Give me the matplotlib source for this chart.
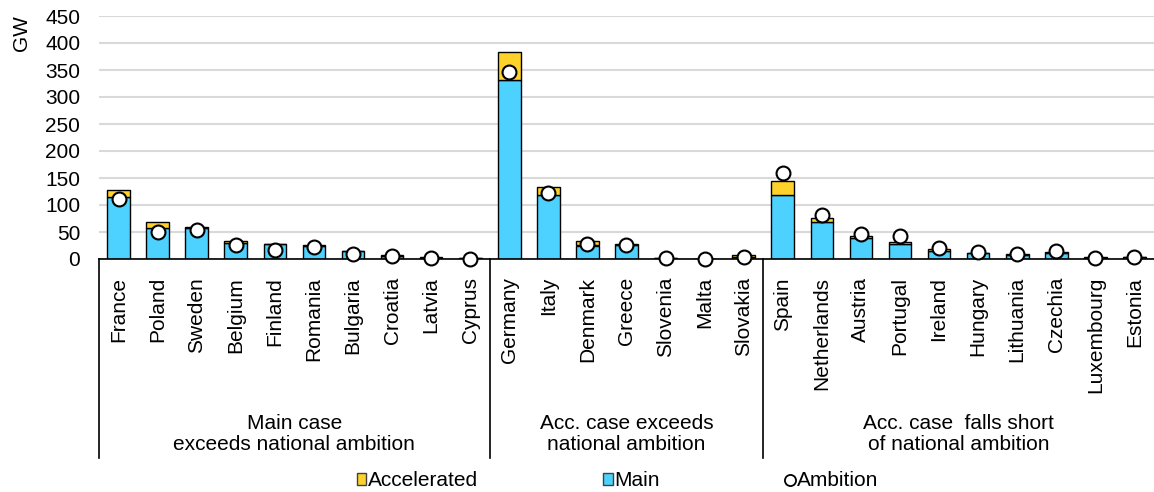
import matplotlib
matplotlib.use("Agg")
import matplotlib.pyplot as plt
import matplotlib.transforms as mtransforms
from matplotlib.lines import Line2D
from matplotlib.patches import Patch

plt.rcParams["font.family"] = ["Liberation Sans", "DejaVu Sans"]
plt.rcParams["font.size"] = 15

countries = [
    "France", "Poland", "Sweden", "Belgium", "Finland", "Romania", "Bulgaria",
    "Croatia", "Latvia", "Cyprus",
    "Germany", "Italy", "Denmark", "Greece", "Slovenia", "Malta", "Slovakia",
    "Spain", "Netherlands", "Austria", "Portugal", "Ireland", "Hungary",
    "Lithuania", "Czechia", "Luxembourg", "Estonia",
]
main = [114, 57, 58, 30, 27, 24, 14, 6, 2, 1,
        331, 119, 25, 26, 2, 0.3, 4,
        119, 69, 38, 28, 15, 11, 7, 12, 2, 3]
accelerated = [14, 12, 1, 3, 1, 2, 1, 1, 1, 0.5,
               52, 14, 9, 1, 0.5, 0.2, 4,
               26, 6, 4, 3, 3, 1, 2, 1, 1, 1]
ambition = [112, 50, 54, 26, 17, 23, 9, 5, 1, 0,
            347, 123, 28, 26, 2, 0, 4,
            160, 81, 46, 43, 20, 13, 9, 15, 1, 4]
groups = ["Main case\nexceeds national ambition",
          "Acc. case exceeds\nnational ambition",
          "Acc. case  falls short\nof national ambition"]
group_sizes = [10, 7, 10]

blue = "#4DD2FF"
gold = "#FFD22B"

fig = plt.figure(figsize=(11.54, 4.92), dpi=100)
ax = fig.add_axes([99 / 1154, 1 - 259 / 492, 1 - 99 / 1154, 243 / 492])

x = list(range(len(countries)))
ax.bar(x, main, width=0.58, color=blue, edgecolor="black", linewidth=1, zorder=2)
ax.bar(x, accelerated, bottom=main, width=0.58, color=gold, edgecolor="black",
       linewidth=1, zorder=2)
ax.plot(x, ambition, "o", markersize=10, markerfacecolor="white",
        markeredgecolor="black", markeredgewidth=1.5, zorder=3, clip_on=False)

ax.set_xlim(-0.5, len(countries) - 0.5)
ax.set_ylim(0, 450)
ax.set_yticks(range(0, 451, 50))
ax.yaxis.grid(True, color="#D9D9D9", linewidth=1.5, zorder=0)
ax.set_axisbelow(True)
for side in ["top", "right", "left"]:
    ax.spines[side].set_visible(False)
ax.spines["bottom"].set_linewidth(1.2)
ax.tick_params(axis="y", length=0, pad=13.5)
ax.set_xticks(x)
ax.set_xticklabels(countries, rotation=90)
ax.tick_params(axis="x", length=0, pad=13)

ax.text(-0.0735, 0.93, "GW", transform=ax.transAxes, rotation=90,
        ha="center", va="center")

# group separators and labels
trans = mtransforms.blended_transform_factory(ax.transData, ax.transAxes)
start = -0.5
for size, label in zip(group_sizes, groups):
    ax.add_line(Line2D([start, start], [0, -0.82], transform=trans,
                       color="black", linewidth=1.2, clip_on=False))
    end = start + size
    ax.text((start + end) / 2, -0.72, label, transform=trans, ha="center",
            va="center", linespacing=1.1)
    start = end

handles = [
    Patch(facecolor=gold, edgecolor="#404040", linewidth=1),
    Patch(facecolor=blue, edgecolor="#404040", linewidth=1),
    Line2D([], [], marker="o", linestyle="none", markersize=8,
           markerfacecolor="white", markeredgecolor="black", markeredgewidth=1.3),
]
fig.legend(handles, ["Accelerated", "Main", "Ambition"], loc="center",
           bbox_to_anchor=(0.535, 1 - 481 / 492), ncol=3, frameon=False,
           handlelength=0.45, handleheight=0.45, handletextpad=0.1,
           columnspacing=6.0)

fig.savefig("out.png", dpi=100)
